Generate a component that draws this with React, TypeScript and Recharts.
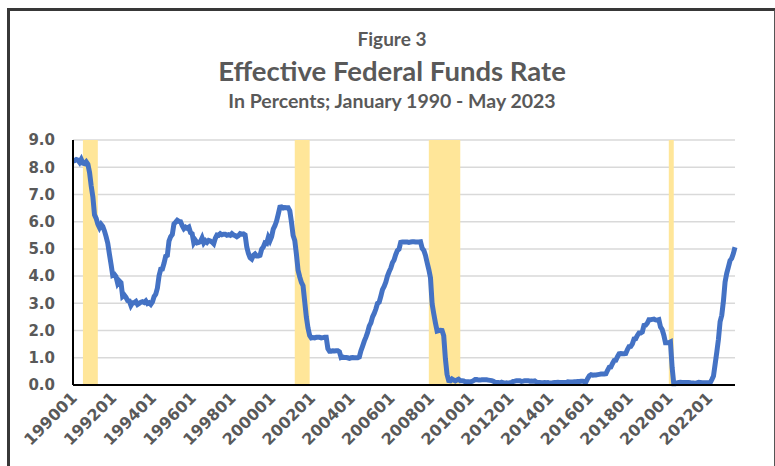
import React from "react";
import { LineChart, Line, XAxis, YAxis, CartesianGrid, ReferenceArea } from "recharts";

// monthly effective fed funds rate, 1990-01 .. 2023-05
const years = Array.from({ length: 34 }, (_, i) => 1990 + i);
const months = years.flatMap((y) =>
  Array.from({ length: 12 }, (_, m) => `${y}${String(m + 1).padStart(2, "0")}`)
).slice(0, 401);

const rate = [
  8.23, 8.24, 8.28, 8.26, 8.18, 8.29, 8.15, 8.13, 8.2, 8.11, 7.81, 7.31,
  6.91, 6.25, 6.12, 5.91, 5.78, 5.9, 5.82, 5.66, 5.45, 5.21, 4.81, 4.43,
  4.03, 4.06, 3.98, 3.73, 3.82, 3.76, 3.25, 3.3, 3.22, 3.1, 3.09, 2.92,
  3.02, 3.03, 3.07, 2.96, 3.0, 3.04, 3.06, 3.03, 3.09, 2.99, 3.02, 2.96,
  3.05, 3.25, 3.34, 3.56, 4.01, 4.25, 4.26, 4.47, 4.73, 4.76, 5.29, 5.45,
  5.53, 5.92, 5.98, 6.05, 6.01, 6.0, 5.85, 5.74, 5.8, 5.76, 5.8, 5.6,
  5.56, 5.22, 5.31, 5.22, 5.24, 5.27, 5.4, 5.22, 5.3, 5.24, 5.31, 5.29,
  5.25, 5.19, 5.39, 5.51, 5.5, 5.56, 5.52, 5.54, 5.54, 5.5, 5.52, 5.5,
  5.56, 5.51, 5.49, 5.45, 5.49, 5.56, 5.54, 5.55, 5.51, 5.07, 4.83, 4.68,
  4.63, 4.76, 4.81, 4.74, 4.74, 4.76, 4.99, 5.07, 5.22, 5.2, 5.42, 5.3,
  5.45, 5.73, 5.85, 6.02, 6.27, 6.53, 6.54, 6.5, 6.52, 6.51, 6.51, 6.4,
  5.98, 5.49, 5.31, 4.8, 4.21, 3.97, 3.77, 3.65, 3.07, 2.49, 2.09, 1.82,
  1.73, 1.74, 1.73, 1.75, 1.75, 1.75, 1.73, 1.74, 1.75, 1.75, 1.34, 1.24,
  1.24, 1.26, 1.25, 1.26, 1.26, 1.22, 1.01, 1.03, 1.01, 1.01, 1.0, 0.98,
  1.0, 1.01, 1.0, 1.0, 1.0, 1.03, 1.26, 1.43, 1.61, 1.76, 1.93, 2.16,
  2.28, 2.5, 2.63, 2.79, 3.0, 3.04, 3.26, 3.5, 3.62, 3.78, 4.0, 4.16,
  4.29, 4.49, 4.59, 4.79, 4.94, 4.99, 5.24, 5.25, 5.25, 5.25, 5.25, 5.24,
  5.25, 5.26, 5.26, 5.25, 5.25, 5.25, 5.26, 5.02, 4.94, 4.76, 4.49, 4.24,
  3.94, 2.98, 2.61, 2.28, 1.98, 2.0, 2.01, 2.0, 1.81, 0.97, 0.39, 0.16,
  0.15, 0.22, 0.18, 0.15, 0.18, 0.21, 0.16, 0.16, 0.15, 0.12, 0.12, 0.12,
  0.11, 0.13, 0.16, 0.2, 0.2, 0.18, 0.18, 0.19, 0.19, 0.19, 0.19, 0.18,
  0.17, 0.16, 0.14, 0.1, 0.09, 0.09, 0.07, 0.1, 0.08, 0.07, 0.08, 0.07,
  0.08, 0.1, 0.13, 0.14, 0.16, 0.16, 0.16, 0.13, 0.14, 0.16, 0.16, 0.16,
  0.14, 0.15, 0.14, 0.15, 0.11, 0.09, 0.09, 0.08, 0.08, 0.09, 0.08, 0.09,
  0.07, 0.07, 0.08, 0.09, 0.09, 0.1, 0.09, 0.09, 0.09, 0.09, 0.09, 0.12,
  0.11, 0.11, 0.11, 0.12, 0.12, 0.13, 0.13, 0.14, 0.14, 0.12, 0.12, 0.24,
  0.34, 0.38, 0.36, 0.37, 0.37, 0.38, 0.39, 0.4, 0.4, 0.4, 0.41, 0.54,
  0.65, 0.66, 0.79, 0.9, 0.91, 1.04, 1.15, 1.16, 1.15, 1.15, 1.16, 1.3,
  1.41, 1.42, 1.51, 1.69, 1.7, 1.82, 1.91, 1.91, 1.95, 2.19, 2.2, 2.27,
  2.4, 2.4, 2.41, 2.42, 2.39, 2.38, 2.4, 2.13, 2.04, 1.83, 1.55, 1.55,
  1.55, 1.58, 0.65, 0.05, 0.05, 0.08, 0.09, 0.1, 0.09, 0.09, 0.09, 0.09,
  0.09, 0.08, 0.07, 0.07, 0.06, 0.08, 0.1, 0.09, 0.08, 0.08, 0.08, 0.08,
  0.08, 0.08, 0.2, 0.33, 0.77, 1.21, 1.68, 2.33, 2.56, 3.08, 3.78, 4.1,
  4.33, 4.57, 4.65, 4.83, 5.06,
];

const xTicks = [
  "199001", "199201", "199401", "199601", "199801", "200001", "200201",
  "200401", "200601", "200801", "201001", "201201", "201401", "201601",
  "201801", "202001", "202201",
];
const yTicks = [0, 1, 2, 3, 4, 5, 6, 7, 8, 9];

// recession shading
const recessionStart = ["199007", "200103", "200712", "202001"];
const recessionEnd = ["199104", "200112", "200907", "202004"];

const data = months.map((m, i) => ({ month: m, rate: rate[i] }));

const GRAY = "#595959";

const XTick = (props: any) => {
  const { x, y, payload } = props;
  const ax = x + 5;
  const ay = y + 6;
  return (
    <text
      x={ax}
      y={ay}
      transform={`rotate(-45 ${ax} ${ay})`}
      textAnchor="end"
      fill={GRAY}
      fontFamily="DejaVu Sans"
      fontWeight="bold"
      fontSize={16}
    >
      {payload.value}
    </text>
  );
};

export default function App() {
  return (
    <div style={{ position: "absolute", left: 0, top: 0, width: 775, height: 466, background: "#fff", overflow: "hidden" }}>
      <div
        style={{
          position: "absolute",
          left: 7,
          top: 8,
          width: 764,
          height: 500,
          borderTop: "3px solid #383838",
          borderLeft: "3px solid #383838",
          borderRight: "2px solid #555",
        }}
      />
      <svg width={775} height={140} style={{ position: "absolute", left: 0, top: 0 }}>
        <g fill={GRAY} fontFamily="Lato" fontWeight="bold" textAnchor="middle">
          <text x={392} y={46} fontSize={19}>Figure 3</text>
          <text x={392} y={81} fontSize={27.5}>Effective Federal Funds Rate</text>
          <text x={392} y={108} fontSize={19.5}>In Percents; January 1990 - May 2023</text>
        </g>
      </svg>
      <div style={{ position: "absolute", left: 0, top: 0 }}>
        <LineChart width={775} height={466} data={data} margin={{ top: 140, right: 40, bottom: 21, left: 13 }}>
          <CartesianGrid vertical={false} stroke="#D9D9D9" strokeWidth={1.5} />
          {recessionStart.map((s, i) => (
            <ReferenceArea key={s} x1={s} x2={recessionEnd[i]} fill="#FFE699" fillOpacity={1} stroke="none" />
          ))}
          <XAxis
            dataKey="month"
            ticks={xTicks}
            interval={0}
            height={60}
            tickLine={false}
            axisLine={{ stroke: "#000", strokeWidth: 2 }}
            tick={<XTick />}
          />
          <YAxis
            domain={[0, 9]}
            ticks={yTicks}
            width={60}
            tickLine={false}
            tickMargin={12}
            axisLine={{ stroke: "#000", strokeWidth: 2 }}
            tickFormatter={(v: number) => v.toFixed(1)}
            tick={{ fill: GRAY, fontFamily: "DejaVu Sans", fontWeight: "bold", fontSize: 15 }}
          />
          <Line
            type="linear"
            dataKey="rate"
            stroke="#4472C4"
            strokeWidth={5}
            dot={false}
            isAnimationActive={false}
          />
        </LineChart>
      </div>
    </div>
  );
}
